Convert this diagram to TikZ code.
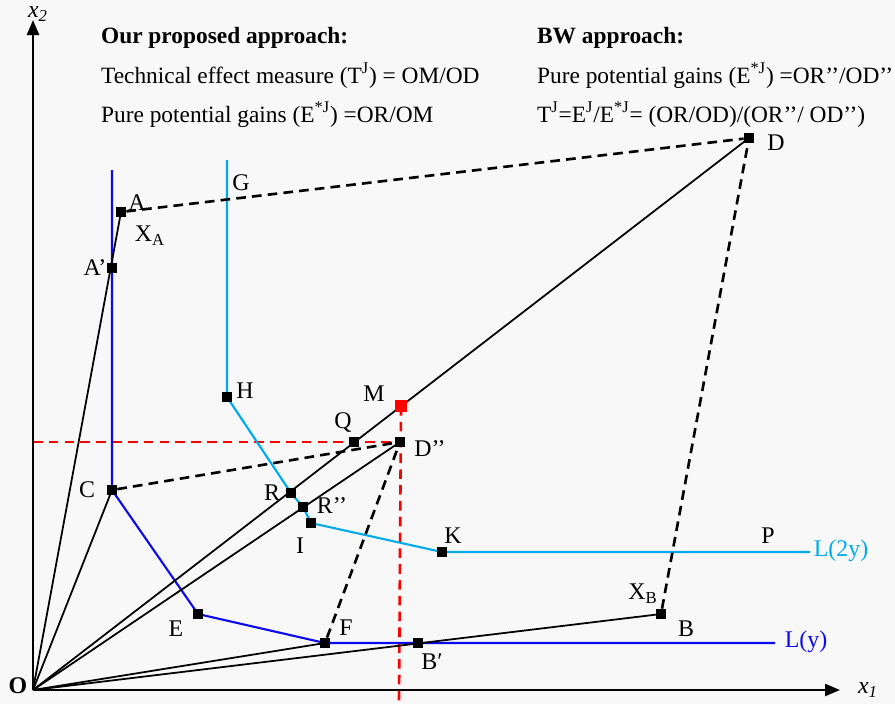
\documentclass[tikz,border=0pt]{standalone}
\usepackage{fontspec}
\setmainfont{Liberation Serif}
\usetikzlibrary{arrows.meta}
\definecolor{lineblue}{RGB}{10,10,240}
\definecolor{skyblue}{RGB}{0,170,235}
\definecolor{bgray}{RGB}{248,248,248}

\begin{document}
\begin{tikzpicture}[
    x=.02cm,y=-.02cm,
    font=\fontsize{13.6}{16}\selectfont,
    sq/.style={rectangle,fill=black,inner sep=0pt,minimum size=2mm},
    lbl/.style={inner sep=1pt},
    axis/.style={-{Triangle[length=3mm,width=2.4mm]},line width=1.4pt},
    ln/.style={line width=1pt},
    dsh/.style={line width=1.5pt,dash pattern=on 5.5pt off 3.5pt},
    rdsh/.style={red,line width=1.5pt,dash pattern=on 5.5pt off 3.5pt},
    blu/.style={lineblue,line width=1.2pt},
    cyn/.style={skyblue,line width=1.2pt}
  ]
    \fill[bgray] (0,0) rectangle (895,704);
    \useasboundingbox (0,0) rectangle (895,704);

    \coordinate (O) at (33,690);
    \coordinate (x1end) at (840,690);
    \coordinate (x2end) at (33,20);
    \coordinate (Atop) at (112,170);
    \coordinate (Gtop) at (227,160);
    \coordinate (Lyend) at (775,643);
    \coordinate (L2yend) at (810,552);

    \node[sq] (A) at (121,212) {};
    \node[sq] (A1) at (112,268) {};
    \node[sq] (C) at (112,490) {};
    \node[sq] (E) at (198,614) {};
    \node[sq] (F) at (325,643) {};
    \node[sq] (B1) at (418,643) {};
    \node[sq] (B) at (661,614) {};
    \node[sq] (D) at (749,138) {};
    \node[sq] (H) at (227,397) {};
    \node[sq] (R) at (291,493) {};
    \node[sq] (R2) at (303,507) {};
    \node[sq] (I) at (311,523) {};
    \node[sq] (K) at (442,552) {};
    \node[sq] (Q) at (354,442) {};
    \node[sq] (D2) at (400,442) {};
    \coordinate (Mc) at (401,406);
    \coordinate (Mbot) at (399,704);

    \draw[rdsh] (O |- D2) -- (D2.center);
    \draw[rdsh] (Mc) -- (Mbot);

    \draw[blu] (Atop) -- (C.center) -- (E.center) -- (F.center) -- (Lyend);
    \draw[cyn] (Gtop) -- (H.center) -- (R.center) -- (R2.center) -- (I.center) -- (K.center) -- (L2yend);

    \draw[ln] (O) -- (A.center); \draw[ln] (O) -- (C.center);
    \draw[ln] (O) -- (D.center); \draw[ln] (O) -- (D2.center);
    \draw[ln] (O) -- (F.center); \draw[ln] (O) -- (B.center);

    \draw[dsh] (A) -- (D); \draw[dsh] (C) -- (D2);
    \draw[dsh] (F) -- (D2); \draw[dsh] (B) -- (D);

    \node[sq,fill=red,minimum size=2.3mm] (M) at (Mc) {};
    \foreach \n in {A,A1,C,E,F,B1,B,D,H,R,R2,I,K,Q,D2} \node[sq] at (\n) {};

    \draw[axis] (O) -- (x1end);
    \draw[axis] (O) -- (x2end);

    \node[lbl] (lO) at (18,686) {\bfseries O};
    \node[lbl] (lx1) at (868,690) {\textit{x}\textsubscript{\textit{1}}};
    \node[lbl] (lx2) at (38,14) {\textit{x}\textsubscript{\textit{2}}};
    \node[lbl] (lA) at (137,203) {A};
    \node[lbl] (lXA) at (150,236) {X\textsubscript{A}};
    \node[lbl] (lA1) at (95,268) {A’};
    \node[lbl] (lC) at (87,490) {C};
    \node[lbl] (lE) at (176,629) {E};
    \node[lbl] (lF) at (346,628) {F};
    \node[lbl] (lB1) at (432,662) {B′};
    \node[lbl] (lB) at (686,629) {B};
    \node[lbl] (lXB) at (643,594) {X\textsubscript{B}};
    \node[lbl] (lD) at (776,143) {D};
    \node[lbl] (lG) at (241,183) {G};
    \node[lbl] (lH) at (245,391) {H};
    \node[lbl] (lM) at (374,394) {M};
    \node[lbl] (lQ) at (343,423) {Q};
    \node[lbl] (lD2) at (430,449) {D’’};
    \node[lbl] (lR) at (272,493) {R};
    \node[lbl] (lR2) at (332,506) {R’’};
    \node[lbl] (lI) at (300,546) {I};
    \node[lbl] (lK) at (453,536) {K};
    \node[lbl] (lP) at (768,536) {P};
    \node[lbl,text=skyblue] (lL2y) at (841,551) {L(2y)};
    \node[lbl,text=lineblue] (lLy) at (806,642) {L(y)};

    \begin{scope}[font=\fontsize{13.3}{16}\selectfont]
    \node[lbl,anchor=base west] (t1) at (99,43) {\bfseries Our proposed approach:};
    \node[lbl,anchor=base west] (t2) at (99,83) {Technical effect measure (T\textsuperscript{J}) = OM/OD};
    \node[lbl,anchor=base west] (t3) at (99,122) {Pure potential gains (E\textsuperscript{*J}) =OR/OM};
    \node[lbl,anchor=base west] (t4) at (535,43) {\bfseries BW approach:};
    \node[lbl,anchor=base west] (t5) at (535,83) {Pure potential gains (E\textsuperscript{*J}) =OR’’/OD’’};
    \node[lbl,anchor=base west] (t6) at (535,122) {T\textsuperscript{J}=E\textsuperscript{J}/E\textsuperscript{*J}= (OR/OD)/(OR’’/ OD’’)};
    \end{scope}
  \end{tikzpicture}
\end{document}
